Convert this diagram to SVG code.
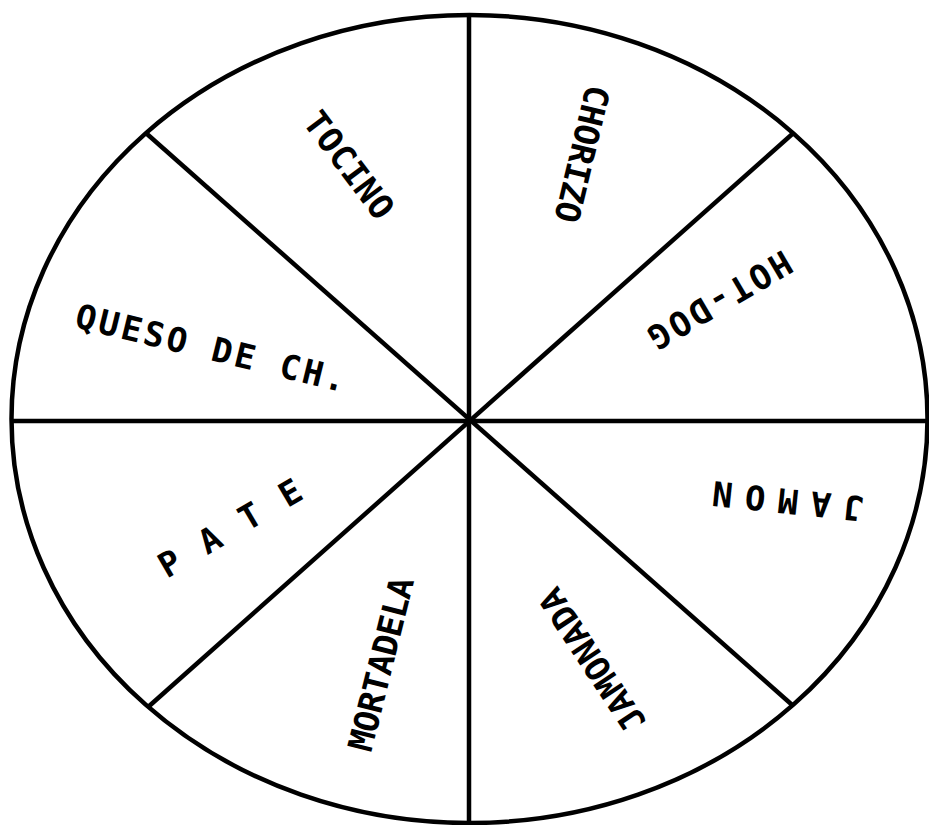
<svg xmlns="http://www.w3.org/2000/svg" width="929" height="825" viewBox="0 0 929 825">
<style>
.ln{stroke:#000;stroke-width:4.5;fill:none;stroke-linecap:butt}
.t{font-family:"DejaVu Sans Mono","Liberation Mono",monospace;font-size:34px;font-weight:bold;fill:#000;text-anchor:middle;dominant-baseline:central}
</style>
<defs>
<clipPath id="inside"><ellipse cx="469.5" cy="419" rx="459" ry="405"/></clipPath>
</defs>
<rect width="929" height="825" fill="#fff"/>
<g id="wheel">
<ellipse class="ln" cx="469.5" cy="419" rx="458" ry="404"/>
</g>
<g id="connectors" clip-path="url(#inside)">
<line class="ln" x1="469" y1="10" x2="469" y2="830"/>
<line class="ln" x1="5" y1="421" x2="935" y2="421"/>
<line class="ln" x1="138" y1="126" x2="808" y2="719"/>
<line class="ln" x1="808" y1="120" x2="138" y2="716"/>
</g>
<g id="tocino"><text class="t" transform="translate(349,165) rotate(53)" textLength="125" lengthAdjust="spacing">TOCINO</text></g>
<g id="chorizo"><text class="t" transform="translate(582,154) rotate(103.5)" textLength="140" lengthAdjust="spacing">CHORIZO</text></g>
<g id="hotdog"><text class="t" transform="translate(720,300) rotate(149.7)" textLength="160" lengthAdjust="spacing">HOT-DOG</text></g>
<g id="queso"><text class="t" transform="translate(211,348) rotate(13.7)" textLength="277" lengthAdjust="spacing">QUESO DE CH.</text></g>
<g id="jamon"><text class="t" transform="translate(788,501) rotate(186)" textLength="152" lengthAdjust="spacing">JAMON</text></g>
<g id="pate"><text class="t" transform="translate(230,528) rotate(-30.3)" textLength="160" lengthAdjust="spacing">PATE</text></g>
<g id="mortadela"><text class="t" transform="translate(381,664) rotate(-76)" textLength="178" lengthAdjust="spacing">MORTADELA</text></g>
<g id="jamonada"><text class="t" transform="translate(592,660) rotate(-123.4)" textLength="164" lengthAdjust="spacing">JAMONADA</text></g>
</svg>
